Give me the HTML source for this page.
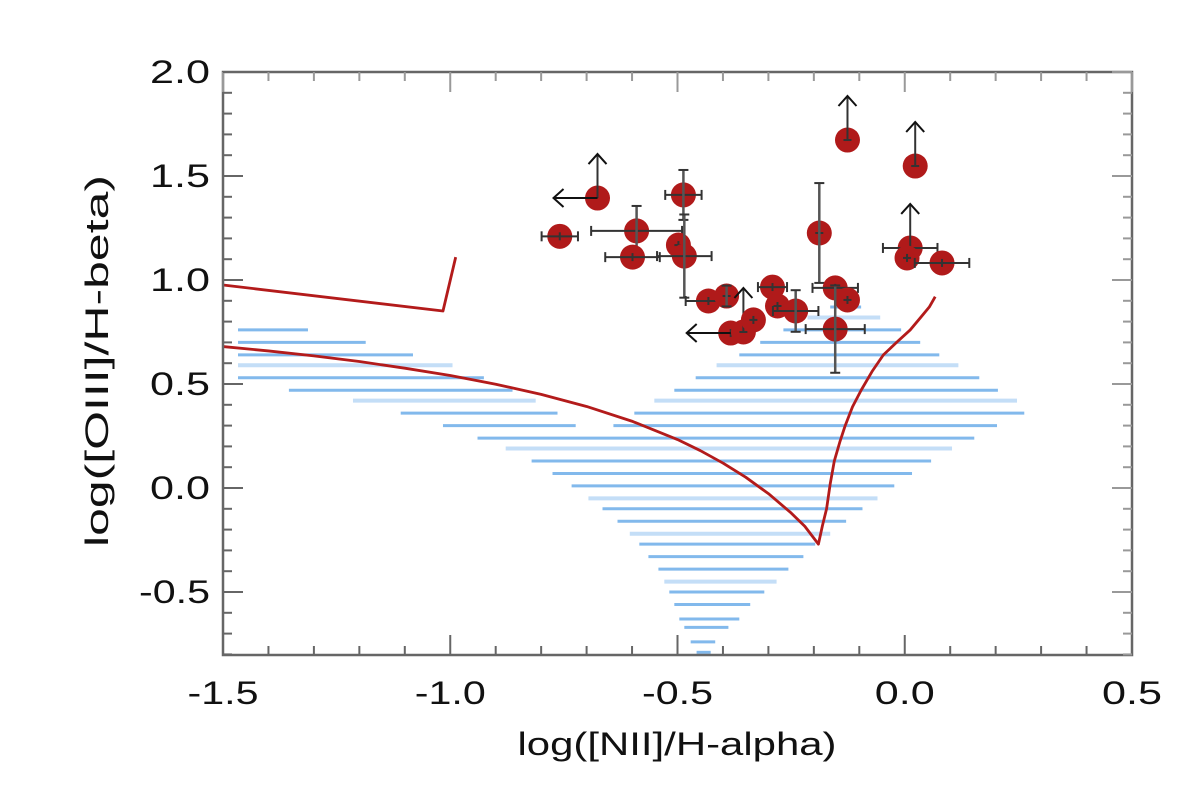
<!DOCTYPE html>
<html><head><meta charset="utf-8"><style>
html,body{margin:0;padding:0;background:#fff;}
svg{display:block;font-family:"Liberation Sans",sans-serif;}
</style></head><body>
<svg id="chart" width="1200" height="797" viewBox="0 0 1200 797" xmlns="http://www.w3.org/2000/svg">
<g id="stripes"></g>
<g id="curves"></g>
<g id="points"></g>
<g id="axes"></g>
</svg>
<script>
// ---- data ----
const xTicks = [-1.5, -1.0, -0.5, 0.0, 0.5];
const xTickLabels = ["-1.5", "-1.0", "-0.5", "0.0", "0.5"];
const yTicks = [-0.5, 0.0, 0.5, 1.0, 1.5, 2.0];
const yTickLabels = ["-0.5", "0.0", "0.5", "1.0", "1.5", "2.0"];

// hatched model region rows: y value, x start, x end, light flag
const stripeY =   [0.87,0.82,0.76,0.70,0.64,0.59,0.53,0.47,0.42,0.36,0.30,0.24,0.19,0.13,0.07,0.01,-0.05,-0.10,-0.16,-0.22,-0.27,-0.33,-0.39,-0.45,-0.50,-0.56,-0.63,-0.67,-0.74,-0.79,
                   0.76,0.70,0.64,0.59,0.53,0.47,0.42,0.36,0.30];
const stripeX0 = [-0.164,-0.214,-0.267,-0.318,-0.364,-0.414,-0.460,-0.507,-0.551,-0.595,-0.641,-0.940,-0.878,-0.821,-0.775,-0.733,-0.696,-0.665,-0.632,-0.605,-0.584,-0.564,-0.542,-0.529,-0.518,-0.507,-0.496,-0.485,-0.471,-0.458,
                   -1.467,-1.467,-1.467,-1.467,-1.467,-1.355,-1.214,-1.109,-1.016];
const stripeX1 = [-0.096,-0.054,-0.008,0.034,0.076,0.118,0.164,0.205,0.247,0.263,0.203,0.153,0.104,0.058,0.016,-0.023,-0.060,-0.093,-0.129,-0.164,-0.197,-0.223,-0.256,-0.282,-0.309,-0.340,-0.364,-0.388,-0.417,-0.427,
                   -1.313,-1.186,-1.082,-0.995,-0.926,-0.863,-0.812,-0.764,-0.724];
const stripeLight = [0,1,0,0,0,1,0,0,1,0,0,0,1,0,0,0,1,0,0,1,0,0,0,1,0,0,0,0,0,0,
                     0,0,0,1,0,0,1,0,0];

// demarcation curves
const lowerCurveX = [-1.5,-1.4,-1.3,-1.2,-1.1,-1.0,-0.9,-0.8,-0.7,-0.6,-0.5,-0.45,-0.4,-0.35,-0.3,-0.25,-0.22,-0.19,-0.181,-0.172,-0.164,-0.155,-0.143,-0.131,-0.115,-0.096,-0.072,-0.047,-0.018,0.012,0.035,0.054,0.067];
const lowerCurveY = [0.68,0.659,0.635,0.608,0.576,0.541,0.499,0.450,0.392,0.321,0.233,0.180,0.120,0.052,-0.027,-0.120,-0.184,-0.27,-0.18,-0.10,0.02,0.13,0.22,0.30,0.39,0.47,0.56,0.64,0.70,0.76,0.82,0.87,0.92];
const upperCurveX = [-1.5,-1.016,-0.988];
const upperCurveY = [0.976,0.851,1.11];

// galaxies
const ptX  = [-0.676,-0.759,-0.59,-0.599,-0.487,-0.498,-0.485,-0.432,-0.392,-0.383,-0.355,-0.333,-0.291,-0.280,-0.240,-0.188,-0.126,0.023,0.012,0.005,0.082,-0.153,-0.126,-0.153];
const ptY  = [1.394,1.21,1.236,1.11,1.409,1.168,1.115,0.899,0.923,0.745,0.75,0.808,0.966,0.875,0.851,1.226,1.673,1.548,1.154,1.106,1.082,0.962,0.904,0.764];
const ptXErr = [0,0.04,0.10,0.06,0.04,0,0.06,0.05,0,0,0,0,0.032,0,0.05,0,0,0,0.06,0,0.06,0.05,0,0.065];
const ptYErr = [0,0,0.12,0,0.12,0,0.20,0,0.05,0,0,0,0,0,0.10,0.24,0,0,0,0,0,0,0,0.21];
const ptUpLimit   = [1,0,0,0,0,0,0,0,0,0,1,0,0,0,0,0,1,1,1,0,0,0,0,0];
const ptLeftLimit = [1,0,0,0,0,0,0,0,0,1,0,0,0,0,0,0,0,0,0,0,0,0,0,0];

// ---- scales ----
const X0=223, X1=1132, Y0=72, Y1=655;
const xMin=-1.5, xMax=0.5;
function sx(v){return X0+(v-xMin)/(xMax-xMin)*(X1-X0);}
function sy(v){return 488-208*v;}
const NS="http://www.w3.org/2000/svg";
function mk(tag,attrs,parent){const e=document.createElementNS(NS,tag);for(const k in attrs)e.setAttribute(k,attrs[k]);parent.appendChild(e);return e;}

// stripes
const gS=document.getElementById('stripes');
for(let i=0;i<stripeY.length;i++){
  const l=mk('line',{x1:sx(stripeX0[i]),x2:sx(stripeX1[i]),y1:sy(stripeY[i]),y2:sy(stripeY[i]),stroke:stripeLight[i]?'#c4def7':'#82b9ec','stroke-width':stripeLight[i]?4:3},gS);
  
  
}

// curves
const gC=document.getElementById('curves');
function poly(xs,ys,name){
  const p=mk('polyline',{points:xs.map((x,i)=>sx(x)+','+sy(ys[i])).join(' '),fill:'none',stroke:'#b31b1b','stroke-width':2.8,'stroke-linejoin':'round'},gC);
  
  
}
poly(lowerCurveX,lowerCurveY,'kauffmann-curve');
poly(upperCurveX,upperCurveY,'upper-demarcation-line');

// points
const gP=document.getElementById('points');
for(let i=0;i<ptX.length;i++){
  const cx=sx(ptX[i]), cy=sy(ptY[i]);
  const g=mk('g',{},gP);
  
  
  mk('circle',{cx:cx,cy:cy,r:12.5,fill:'#b01a1a'},g);
  const ec='#333';
  if(ptXErr[i]>0){
    const a=sx(ptX[i]-ptXErr[i]), b=sx(ptX[i]+ptXErr[i]);
    mk('line',{x1:a,x2:b,y1:cy,y2:cy,stroke:ec,'stroke-width':2},g);
    mk('line',{x1:a,x2:a,y1:cy-5,y2:cy+5,stroke:ec,'stroke-width':2},g);
    mk('line',{x1:b,x2:b,y1:cy-5,y2:cy+5,stroke:ec,'stroke-width':2},g);
  } else if(!ptLeftLimit[i]) {
    mk('line',{x1:cx-4,x2:cx+4,y1:cy,y2:cy,stroke:ec,'stroke-width':2},g);
  }
  if(ptYErr[i]>0){
    const a=sy(ptY[i]-ptYErr[i]), b=sy(ptY[i]+ptYErr[i]);
    mk('line',{x1:cx,x2:cx,y1:a,y2:b,stroke:'#555','stroke-width':2.5},g);
    mk('line',{x1:cx-5,x2:cx+5,y1:a,y2:a,stroke:ec,'stroke-width':2},g);
    mk('line',{x1:cx-5,x2:cx+5,y1:b,y2:b,stroke:ec,'stroke-width':2},g);
  } else if(!ptUpLimit[i]) {
    mk('line',{x1:cx,x2:cx,y1:cy-4,y2:cy+4,stroke:ec,'stroke-width':2},g);
  }
  if(ptUpLimit[i]){
    const t=cy-44;
    mk('line',{x1:cx,x2:cx,y1:cy,y2:t,stroke:'#333','stroke-width':2},g);
    mk('polyline',{points:(cx-9)+','+(t+10)+' '+cx+','+t+' '+(cx+9)+','+(t+10),fill:'none',stroke:'#111','stroke-width':2},g);
  }
  if(ptLeftLimit[i]){
    const t=cx-44;
    mk('line',{x1:cx,x2:t,y1:cy,y2:cy,stroke:'#111','stroke-width':2},g);
    mk('polyline',{points:(t+10)+','+(cy-9)+' '+t+','+cy+' '+(t+10)+','+(cy+9),fill:'none',stroke:'#111','stroke-width':2},g);
  }
}

// axes
const gA=document.getElementById('axes');
const ac='#666';
const frame=mk('rect',{x:X0,y:Y0,width:X1-X0,height:Y1-Y0,fill:'none',stroke:ac,'stroke-width':2.5},gA);


for(let k=-15;k<=5;k++){
  const v=k/10, x=sx(v), major=(k%5===0);
  const L=major?20:9;
  mk('line',{x1:x,x2:x,y1:Y1,y2:Y1-L,stroke:ac,'stroke-width':2},gA);
  mk('line',{x1:x,x2:x,y1:Y0,y2:Y0+L,stroke:'#999','stroke-width':2},gA);
}
for(let k=-8;k<=20;k++){
  const v=k/10, y=sy(v), major=(k%5===0);
  const L=major?20:9;
  mk('line',{x1:X0,x2:X0+L,y1:y,y2:y,stroke:ac,'stroke-width':2},gA);
  mk('line',{x1:X1,x2:X1-L,y1:y,y2:y,stroke:'#999','stroke-width':2},gA);
}
function lbl(str){return str.charAt(0)==='-'?71:60;}
xTicks.forEach((v,i)=>{
  const t=mk('text',{x:sx(v),y:704,'text-anchor':'middle','font-size':32,fill:'#111',textLength:lbl(xTickLabels[i]),lengthAdjust:'spacingAndGlyphs'},gA);
  t.textContent=xTickLabels[i];
  
  
});
yTicks.forEach((v,i)=>{
  const t=mk('text',{x:210,y:sy(v)+11,'text-anchor':'end','font-size':32,fill:'#111',textLength:lbl(yTickLabels[i]),lengthAdjust:'spacingAndGlyphs'},gA);
  t.textContent=yTickLabels[i];
  
  
});
const xt=mk('text',{x:677,y:755,'text-anchor':'middle','font-size':32,fill:'#111',textLength:319,lengthAdjust:'spacingAndGlyphs'},gA);
xt.textContent='log([NII]/H-alpha)';


const yt=mk('text',{x:0,y:0,'text-anchor':'middle','font-size':32,fill:'#111',textLength:372,lengthAdjust:'spacingAndGlyphs',transform:'translate(108,361) rotate(-90)'},gA);
yt.textContent='log([OIII]/H-beta)';


</script>
</body></html>
